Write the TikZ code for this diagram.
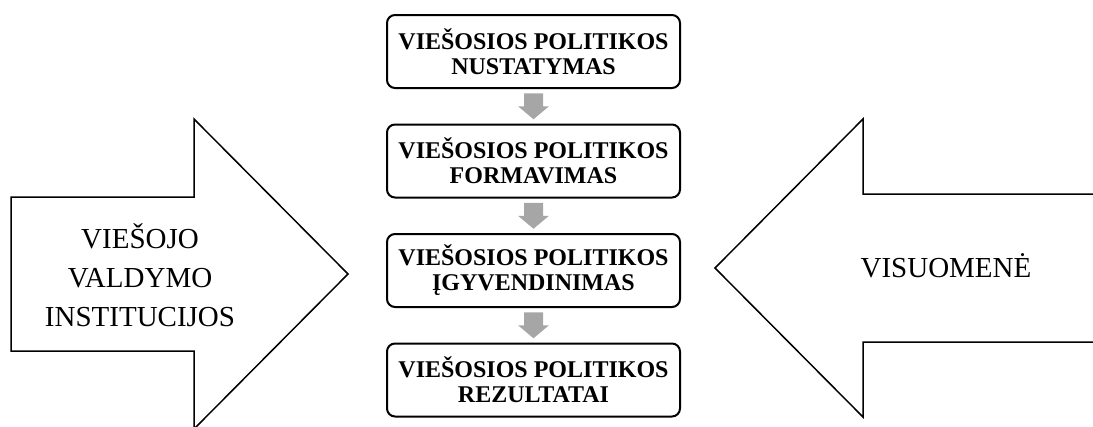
\documentclass[tikz,border=0pt]{standalone}
\usepackage{fontspec}
\setmainfont{Liberation Serif}
\tikzset{
  stagebox/.style={draw=black, line width=2pt, rounded corners=8pt, minimum width=293pt, minimum height=73pt, inner sep=0pt, align=center, font=\fontsize{24}{25}\selectfont\bfseries},
  bigarrow/.style={draw=black, line width=1.5pt, fill=white, line join=miter},
  flowarrow/.style={fill=gray!70!white, draw=none},
  sidelabel/.style={align=center, font=\fontsize{29}{39}\selectfont}
}
\begin{document}
\begin{tikzpicture}[x=1pt,y=-1pt]
\useasboundingbox (0,0) rectangle (1093,426);
\begin{scope}
\clip (0,0) rectangle (1093,426);
% left big arrow
\draw[bigarrow] (11,197) -- (194,197) -- (194,119) -- (348,274) -- (194,429) -- (194,351) -- (11,351) -- cycle;
% right big arrow
\draw[bigarrow] (1100,194) -- (863,194) -- (863,119) -- (715,268) -- (863,417) -- (863,342) -- (1100,342);
\end{scope}
\node[sidelabel] (inst) at (140,275) {VIEŠOJO\\VALDYMO\\INSTITUCIJOS};
\node[sidelabel] (vis) at (946,266) {VISUOMENĖ};
% stage boxes
\node[stagebox] (s1) at (533.5,51.5) {VIEŠOSIOS POLITIKOS\\NUSTATYMAS};
\node[stagebox] (s2) at (533.5,161) {VIEŠOSIOS POLITIKOS\\FORMAVIMAS};
\node[stagebox] (s3) at (533.5,270.5) {VIEŠOSIOS POLITIKOS\\ĮGYVENDINIMAS};
\node[stagebox] (s4) at (533.5,380) {VIEŠOSIOS POLITIKOS\\REZULTATAI};
% gray flow arrows
\foreach \a/\b in {s1/s2, s2/s3, s3/s4}{
  \path (\a.south) -- (\b.north) coordinate[pos=0.5] (m);
  \fill[flowarrow] ([xshift=-9.5pt,yshift=13pt]m) -- ([xshift=9.5pt,yshift=13pt]m) -- ([xshift=9.5pt,yshift=0pt]m) -- ([xshift=15.5pt,yshift=0pt]m) -- ([yshift=-13pt]m) -- ([xshift=-15.5pt,yshift=0pt]m) -- ([xshift=-9.5pt,yshift=0pt]m) -- cycle;
}
\end{tikzpicture}
\end{document}
